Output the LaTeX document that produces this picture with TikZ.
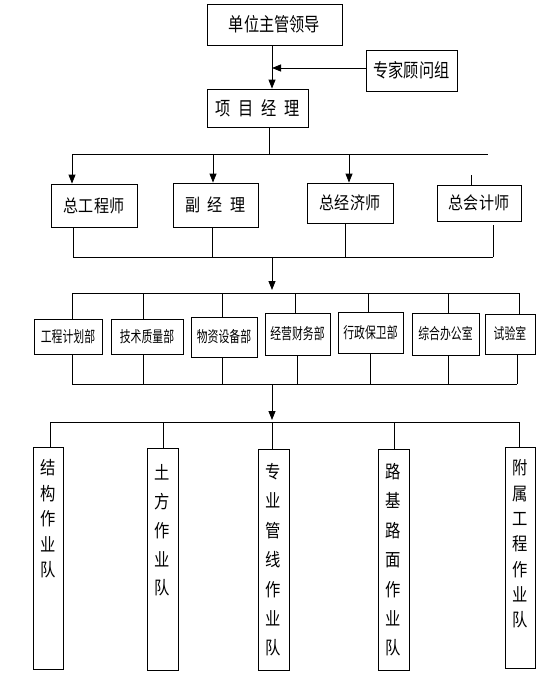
\documentclass[tikz,border=0pt]{standalone}
\usepackage{fontspec}
\setmainfont{Noto Sans CJK SC}
\newfontfamily\topfont[FakeStretch=0.8]{Noto Sans CJK SC}
\newfontfamily\midfont[FakeStretch=0.86]{Noto Sans CJK SC}
\newfontfamily\deptfont[FakeStretch=0.7]{Noto Sans CJK SC}
\newfontfamily\vfont[FakeStretch=0.85]{Noto Sans CJK SC}
\usetikzlibrary{arrows.meta,calc}
\begin{document}
\begin{tikzpicture}[x=1pt,y=-1pt,
  ln/.style={line width=0.8pt},
  arr/.style={line width=0.8pt,-{Triangle[length=9pt,width=7pt]}},
  topbox/.style={draw,line width=0.8pt,inner sep=0pt,font=\topfont\fontsize{19}{21}\selectfont},
  midbox/.style={draw,line width=0.8pt,inner sep=0pt,font=\midfont\fontsize{17.5}{20}\selectfont},
  deptbox/.style={draw,line width=0.8pt,inner sep=0pt,font=\deptfont\fontsize{15.5}{18}\selectfont},
  vbox/.style={draw,line width=0.8pt,inner sep=0pt,minimum width=30pt},
  vtext/.style={inner sep=0pt,align=center,anchor=north,font=\vfont\fontsize{18}{#1}\selectfont}]
\useasboundingbox (0,0) rectangle (554,677);
% level 1
\node[topbox,minimum width=135pt,minimum height=41pt] (lead) at (274.5,24.5) {单位主管领导};
\node[topbox,minimum width=91pt,minimum height=41pt] (expert) at (411.5,70.5) {专家顾问组};
\node[topbox,minimum width=101pt,minimum height=38pt] (pm) at (257.5,108) {项\hspace{0.4em}目\hspace{0.4em}经\hspace{0.4em}理};
\coordinate (j1) at (272,68);
\draw[arr] (lead.south -| j1) -- (pm.north -| j1);
\draw[arr] (expert.west |- j1) -- (j1);
% level 2
\node[midbox,minimum width=86pt,minimum height=43pt] (zgc) at (94,205.5) {总工程师};
\node[midbox,minimum width=85pt,minimum height=44pt] (fjl) at (215.5,205) {副\hspace{0.4em}经\hspace{0.4em}理};
\node[midbox,minimum width=86pt,minimum height=40pt] (zjj) at (350,203) {总经济师};
\node[midbox,minimum width=84pt,minimum height=36pt] (zkj) at (479,203) {总会计师};
\coordinate (h1) at (269,154);
\coordinate (h1l) at (72,154);
\coordinate (h1r) at (488,154);
\coordinate (h1b) at (213,154);
\coordinate (h1c) at (349,154);
\draw[ln] (pm.south -| h1) -- (h1);
\draw[ln] (h1l) -- (h1r);
\draw[arr] (h1l) -- (zgc.north -| h1l);
\draw[arr] (h1b) -- (fjl.north -| h1b);
\draw[arr] (h1c) -- (zjj.north -| h1c);
\coordinate (tk) at (471,175);
\draw[ln] (tk) -- (zkj.north -| tk);
% collect level 2
\coordinate (g1) at (73,257);
\coordinate (g2) at (212,257);
\coordinate (g3) at (345,257);
\coordinate (g4) at (493,257);
\coordinate (g0) at (272,257);
\draw[ln] (zgc.south -| g1) -- (g1);
\draw[ln] (fjl.south -| g2) -- (g2);
\draw[ln] (zjj.south -| g3) -- (g3);
\draw[ln] ($(zkj.south -| g4)+(0,4)$) -- (g4);
\draw[ln] (g1) -- (g4);
\coordinate (a2) at (272,290);
\draw[arr] (g0) -- (a2);
% level 3
\node[deptbox,minimum width=68pt,minimum height=35pt] (d1) at (68,336.5) {工程计划部};
\node[deptbox,minimum width=72pt,minimum height=35pt] (d2) at (147,336.5) {技术质量部};
\node[deptbox,minimum width=66pt,minimum height=40pt] (d3) at (224,337) {物资设备部};
\node[deptbox,minimum width=65pt,minimum height=42pt] (d4) at (297.5,334) {经营财务部};
\node[deptbox,minimum width=65pt,minimum height=41pt] (d5) at (370.5,332.5) {行政保卫部};
\node[deptbox,minimum width=67pt,minimum height=42pt] (d6) at (445.5,334) {综合办公室};
\node[deptbox,minimum width=50pt,minimum height=40pt] (d7) at (510,334) {试验室};
\coordinate (t1) at (72,293);
\coordinate (t2) at (143,293);
\coordinate (t3) at (222,293);
\coordinate (t4) at (295,293);
\coordinate (t5) at (368,293);
\coordinate (t6) at (448,293);
\coordinate (t7) at (519,293);
\draw[ln] (t1) -- (t7);
\draw[ln] (t1) -- (d1.north -| t1);
\draw[ln] (t2) -- (d2.north -| t2);
\draw[ln] (t3) -- (d3.north -| t3);
\draw[ln] (t4) -- (d4.north -| t4);
\draw[ln] (t5) -- (d5.north -| t5);
\draw[ln] (t6) -- (d6.north -| t6);
\draw[ln] (t7) -- (d7.north -| t7);
\coordinate (b1) at (72,384);
\coordinate (b2) at (143,384);
\coordinate (b3) at (222,384);
\coordinate (b4) at (297,384);
\coordinate (b5) at (370,384);
\coordinate (b6) at (448,384);
\coordinate (b7) at (517,384);
\coordinate (b0) at (272,384);
\draw[ln] (b1) -- (b7);
\draw[ln] (d1.south -| b1) -- (b1);
\draw[ln] (d2.south -| b2) -- (b2);
\draw[ln] (d3.south -| b3) -- (b3);
\draw[ln] (d4.south -| b4) -- (b4);
\draw[ln] (d5.south -| b5) -- (b5);
\draw[ln] (d6.south -| b6) -- (b6);
\draw[ln] (d7.south -| b7) -- (b7);
\coordinate (a3) at (272,420);
\draw[arr] (b0) -- (a3);
% level 4
\node[vbox,minimum height=222pt] (w1) at (48,558) {};
\node[vbox,minimum width=31pt,minimum height=222pt] (w2) at (162.5,559) {};
\node[vbox,minimum width=31pt,minimum height=221pt] (w3) at (273.5,559.5) {};
\node[vbox,minimum width=31pt,minimum height=221pt] (w4) at (393.5,559.5) {};
\node[vbox,minimum height=221pt] (w5) at (520,557.5) {};
\node[vtext=25.5] (w1t) at ($(w1.north)+(0,13)$) {结\\构\\作\\业\\队};
\node[vtext=28.9] (w2t) at ($(w2.north)+(0,16.5)$) {土\\方\\作\\业\\队};
\node[vtext=29.4] (w3t) at ($(w3.north)+(0,14.5)$) {专\\业\\管\\线\\作\\业\\队};
\node[vtext=29.4] (w4t) at ($(w4.north)+(0,14.5)$) {路\\基\\路\\面\\作\\业\\队};
\node[vtext=25.3] (w5t) at ($(w5.north)+(0,13)$) {附\\属\\工\\程\\作\\业\\队};
\coordinate (s1) at (50,422);
\coordinate (s2) at (163,422);
\coordinate (s3) at (272,422);
\coordinate (s4) at (394,422);
\coordinate (s5) at (519,422);
\draw[ln] (s1) -- (s5);
\draw[ln] (s1) -- (w1.north -| s1);
\draw[ln] (s2) -- (w2.north -| s2);
\draw[ln] (s3) -- (w3.north -| s3);
\draw[ln] (s4) -- (w4.north -| s4);
\draw[ln] (s5) -- (w5.north -| s5);
\end{tikzpicture}
\end{document}
